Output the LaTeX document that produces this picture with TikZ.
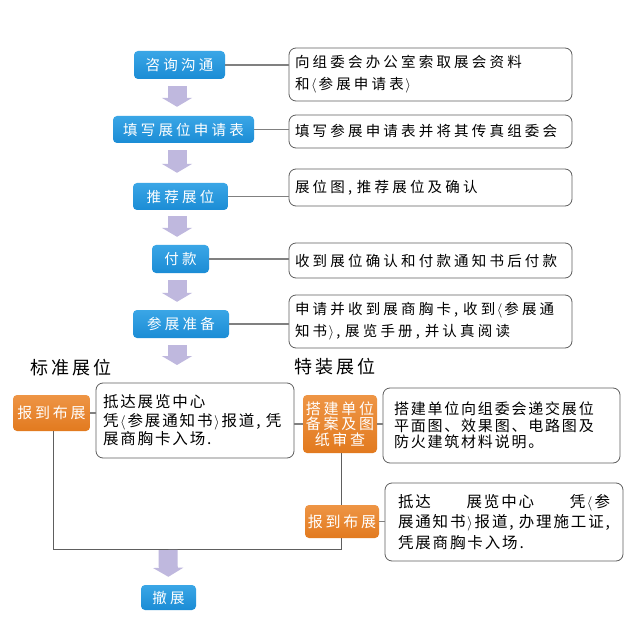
\documentclass[tikz,border=0pt]{standalone}
\usepackage{fontspec}
\usetikzlibrary{arrows.meta,positioning,calc}
\newfontfamily\cjk[LetterSpace=22]{Noto Sans CJK SC}
\newfontfamily\cjkb[LetterSpace=18]{Noto Sans CJK SC}
\newfontfamily\song[LetterSpace=12]{Noto Sans CJK SC}
\newcommand{\lb}{\hspace{1.5pt}\ensuremath{\langle}\hspace{2pt}}
\newcommand{\rb}{\hspace{1.5pt}\ensuremath{\rangle}\hspace{2pt}}
\definecolor{bluebox}{HTML}{1B8CD5}
\definecolor{bluetop}{HTML}{3AA6E6}
\definecolor{orangebox}{HTML}{E27A1F}
\definecolor{orangetop}{HTML}{EE9545}
\definecolor{lav}{HTML}{BFB8DE}
\definecolor{conn}{HTML}{808080}
\definecolor{bord}{HTML}{5E5E5E}
\begin{document}
\begin{tikzpicture}[x=1pt,y=-1pt,
  bluestep/.style={rounded corners=4pt, top color=bluetop, bottom color=bluebox, draw=none,
     text=white, font=\cjk\fontsize{14.5}{16}\selectfont, inner sep=0pt, anchor=center},
  orstep/.style={rounded corners=4pt, top color=orangetop, bottom color=orangebox, draw=none,
     text=white, font=\cjkb\fontsize{15}{16}\selectfont, inner sep=0pt, anchor=center, align=center},
  infobox/.style={rounded corners=7pt, draw=bord, line width=0.8pt, fill=white,
     font=\cjk\fontsize{14.5}{22}\selectfont, align=left, inner sep=0pt, anchor=center},
  lowbox/.style={rounded corners=7pt, draw=bord, line width=0.8pt, fill=white,
     font=\song\fontsize{15.5}{18.5}\selectfont, align=left, inner sep=0pt, anchor=center},
  connline/.style={draw=conn, line width=1.1pt},
  loopline/.style={draw=bord, line width=0.9pt},
  blockarrow/.style={draw=lav, line width=19pt, -{Triangle[width=30pt,length=9pt]}},
  heading/.style={font=\cjkb\fontsize{18}{20}\selectfont, text=black, anchor=center}
]
\useasboundingbox[fill=white] (0,0) rectangle (642,628);

% main blue steps
\node[bluestep, minimum width=91pt, minimum height=28pt] (B1) at (179.5,65) {咨询沟通};
\node[bluestep, minimum width=141pt, minimum height=27pt] (B2) at (183.5,129.5) {填写展位申请表};
\node[bluestep, minimum width=95pt, minimum height=27pt] (B3) at (180.5,196.5) {推荐展位};
\node[bluestep, minimum width=57pt, minimum height=28pt] (B4) at (180.5,259) {付款};
\node[bluestep, minimum width=96pt, minimum height=28pt] (B5) at (181,324) {参展准备};
\node[bluestep, minimum width=55pt, minimum height=25pt] (B6) at (168.5,597.5) {撤展};

% info boxes
\node[infobox, minimum width=283pt, minimum height=53pt, text width=271pt] (R1) at (430.5,74.5) {向组委会办公室索取展会资料\\和\lb 参展申请表\rb};
\node[infobox, minimum width=283pt, minimum height=33pt, text width=271pt] (R2) at (430.5,131.5) {填写参展申请表并将其传真组委会};
\node[infobox, minimum width=283pt, minimum height=37pt, text width=271pt] (R3) at (430.5,187.5) {展位图, 推荐展位及确认};
\node[infobox, minimum width=283pt, minimum height=35pt, text width=271pt] (R4) at (430.5,260.5) {收到展位确认和付款通知书后付款};
\node[infobox, minimum width=283pt, minimum height=53pt, text width=271pt] (R5) at (430.5,321.5) {申请并收到展商胸卡, 收到\lb 参展通\\知书\rb, 展览手册, 并认真阅读};

% connectors
\foreach \i in {1,...,5} {
  \draw[connline] (B\i.east) -- (B\i.east -| R\i.west);
}

% block arrows
\coordinate (ax) at (177,0);
\coordinate (a5end) at (177,365);
\draw[blockarrow, shorten <=7pt, shorten >=9pt] (B1.south -| ax) -- (B2.north -| ax);
\draw[blockarrow, shorten <=7pt, shorten >=10pt] (B2.south -| ax) -- (B3.north -| ax);
\draw[blockarrow, shorten <=6pt, shorten >=8pt] (B3.south -| ax) -- (B4.north -| ax);
\draw[blockarrow, shorten <=7pt, shorten >=8pt] (B4.south -| ax) -- (B5.north -| ax);
\draw[blockarrow, shorten <=7pt] (B5.south -| ax) -- (a5end);

% headings
\node[heading] (H1) at (71,368) {标准展位};
\node[heading] (H2) at (335,367) {特装展位};

% lower part
\node[orstep, minimum width=77pt, minimum height=36pt] (O1) at (51.5,413) {报到布展};
\node[lowbox, minimum width=198pt, minimum height=75pt, text width=184pt] (W1) at (195,420.5) {抵达展览中心\\凭\lb 参展通知书\rb 报道, 凭\\展商胸卡入场.};
\node[orstep, minimum width=74pt, minimum height=58pt, font=\cjkb\fontsize{15}{15.5}\selectfont] (O2) at (340,424) {搭建单位\\备案及图\\纸审查};
\node[lowbox, minimum width=237pt, minimum height=75pt, text width=215pt, font=\song\fontsize{15}{16.5}\selectfont] (W2) at (501.5,425.5) {搭建单位向组委会递交展位\\平面图、效果图、电路图及\\防火建筑材料说明。};
\coordinate (botL) at (53,549);
\coordinate (botR) at (341,549);
\coordinate (a6start) at (168,549);

% loop lines (drawn before the lower orange box so it sits on top)
\draw[loopline] (O1.south -| botL) -- (botL) -- (botR) -- (O2.south -| botR);
\draw[connline] (O1.east) -- (O1.east -| W1.west);
\draw[connline] (O2.west) -- (O2.west -| W1.east);
\draw[connline] (O2.east) -- (O2.east -| W2.west);

\node[orstep, minimum width=74pt, minimum height=33pt] (O3) at (342,521.5) {报到布展};
\node[lowbox, minimum width=238pt, minimum height=78pt, text width=212pt, font=\song\fontsize{15.5}{20.5}\selectfont] (W3) at (504,522) {\makebox[212pt][s]{抵达\hfill 展览中心\hfill 凭\lb 参}\\\makebox[212pt][s]{展通知书\rb 报道, 办理施工证,}\\凭展商胸卡入场.};
\draw[connline] (O3.east) -- (O3.east -| W3.west);

\draw[blockarrow, shorten <=1pt, shorten >=8pt] (a6start) -- (B6.north);
\end{tikzpicture}
\end{document}
